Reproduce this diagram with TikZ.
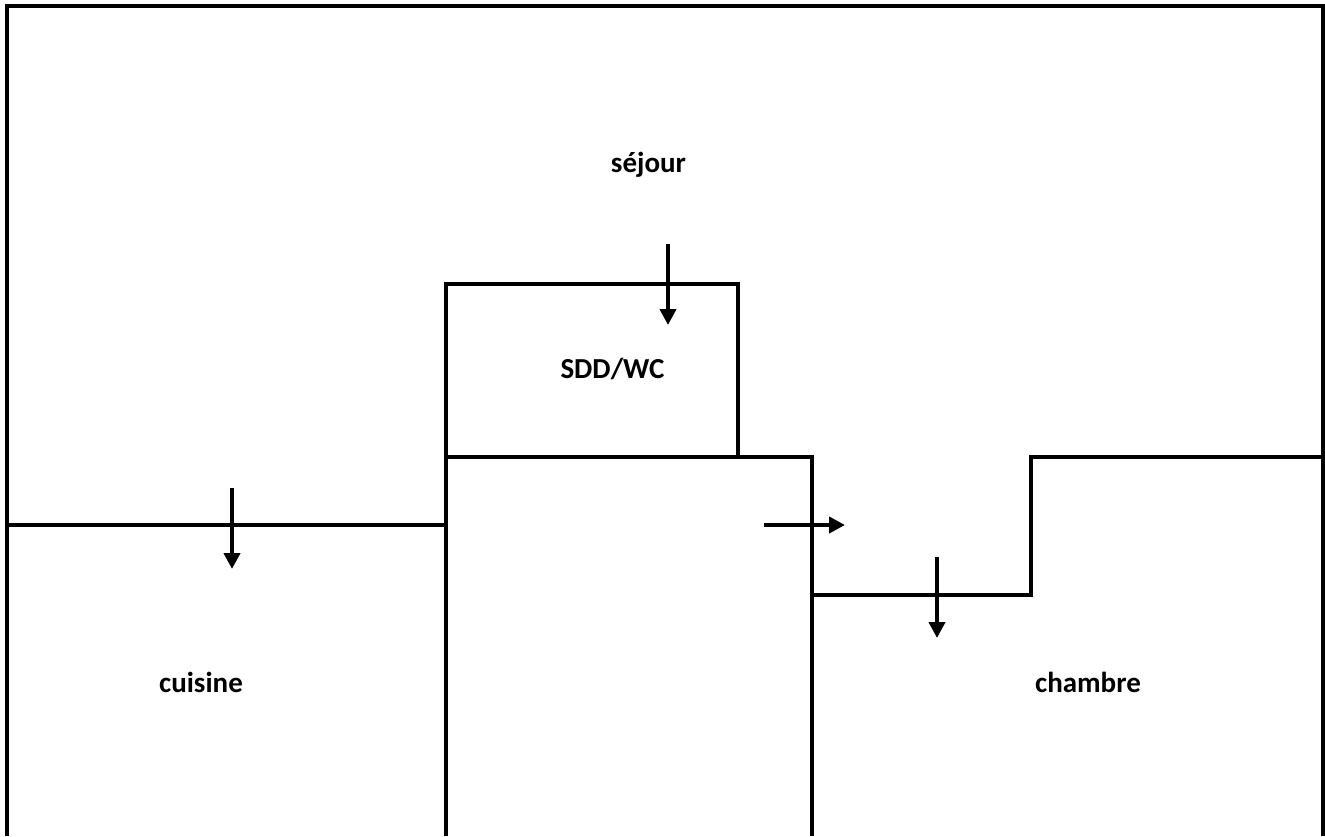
\documentclass[tikz,border=0pt]{standalone}
\usepackage{fontspec}
\setmainfont{Carlito}
\usetikzlibrary{arrows.meta}

\begin{document}
\begin{tikzpicture}
[
  x=1pt,
  y=-1pt,
  wall/.style={line width=4pt, line cap=butt, line join=miter},
  door/.style={line width=4pt, -{Triangle[length=16pt,width=16pt]}},
  room/.style={font=\fontsize{29}{34}\selectfont\bfseries, inner sep=0pt, anchor=base}
]
 \useasboundingbox (0,0) rectangle (1325,836);

 % walls
 \draw[wall] (7,836) -- (7,6) -- (1323,6) -- (1323,836);
 \draw[wall] (7,525) -- (446,525);
 \draw[wall] (446,836) -- (446,284) -- (740,284);
 \draw[wall] (738,284) -- (738,457);
 \draw[wall] (446,457) -- (812,457) -- (812,836);
 \draw[wall] (812,595) -- (1031,595);
 \draw[wall] (1031,597) -- (1031,457) -- (1323,457);

 % rooms
 \node[room] (sejour) at (648.5,172) {séjour};
 \node[room] (sdd) at (612.5,378) {SDD/WC};
 \node[room] (cuisine) at (201,692) {cuisine};
 \node[room] (chambre) at (1088,692) {chambre};

 % doors
 \coordinate (d0a) at (668,244);
 \coordinate (d0b) at (668,325);
 \coordinate (d1a) at (232,488);
 \coordinate (d1b) at (232,569);
 \coordinate (d2a) at (764,525);
 \coordinate (d2b) at (845,525);
 \coordinate (d3a) at (937,557);
 \coordinate (d3b) at (937,638);

 \path[door]
    (d0a) edge (d0b)
    (d1a) edge (d1b)
    (d2a) edge (d2b)
    (d3a) edge (d3b);
\end{tikzpicture}
\end{document}
